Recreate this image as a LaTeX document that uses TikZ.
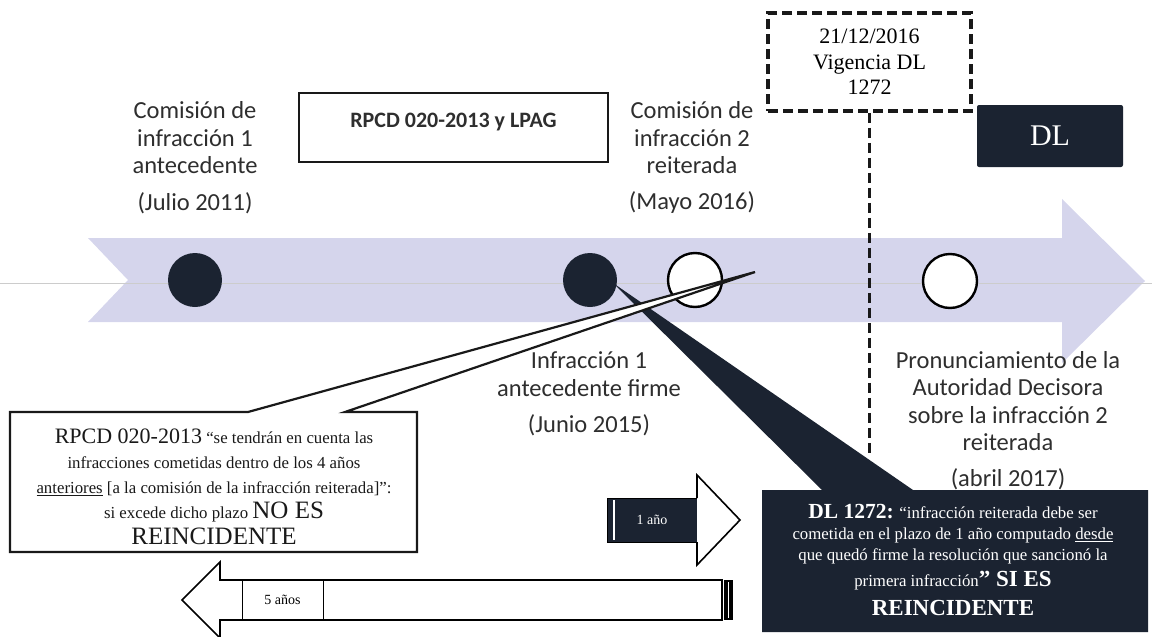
\documentclass[tikz,border=0pt]{standalone}
\usepackage{fontspec}
\setmainfont{Liberation Serif}
\newfontfamily\calfont{Carlito}
\usetikzlibrary{calc}
\definecolor{navy}{HTML}{1B2331}
\definecolor{bandcol}{HTML}{D5D5EC}
\definecolor{txtgray}{HTML}{2E2E2E}
\begin{document}
\begin{tikzpicture}[x=1pt,y=-1pt,
  lbl/.style={font=\calfont\fontsize{24.5}{27.5}\selectfont, align=center, text=txtgray, inner sep=0pt},
  darkdot/.style={circle, fill=navy, minimum size=54pt, inner sep=0pt},
  whitedot/.style={circle, fill=white, draw=black, line width=2.4pt, minimum size=54pt, inner sep=0pt},
  dashline/.style={line width=3.8pt, dash pattern=on 10pt off 5pt, draw=black!90},
]
\useasboundingbox (0,0) rectangle (1152,637);

% timeline band
\fill[bandcol] (88,238) -- (1062,238) -- (1062,199) -- (1145,281) -- (1062,363) -- (1062,322) -- (88,322) -- (128,280) -- cycle;
\draw[black!20, line width=0.6pt] (0,283) -- (1152,283);

% events on the timeline
\node[darkdot] (c1) at (195,280) {};
\node[darkdot] (c2) at (590,280) {};
\node[whitedot] (c3) at (695,280) {};
\node[whitedot] (c4) at (950,281) {};

% dashed date box and marker line
\node[dashline, draw, minimum width=203pt, minimum height=98pt, inner sep=0pt, align=center,
      font=\fontsize{22}{25.5}\selectfont] (vig) at (869.5,62) {21/12/2016\\Vigencia DL\\1272};
\coordinate (vigend) at (869.5,455);
\draw[dashline] (vig.south) -- (vigend);

% DL tag
\node[fill=navy, rounded corners=2pt, minimum width=146pt, minimum height=62pt, inner sep=0pt,
      text=white, font=\fontsize{30}{32}\selectfont] (dl) at (1050,136) {DL};

% RPCD y LPAG box
\node[draw=black!90, line width=2.6pt, minimum width=309pt, minimum height=69pt, inner sep=0pt] (rl) at (453.5,127.5) {};
\node[font=\calfont\bfseries\fontsize{22}{24}\selectfont, text=txtgray, inner sep=0pt] (rltxt) at (453.5,122) {RPCD 020-2013 y LPAG};

% dark callout (DL 1272)
\coordinate (dtip) at (613,283);
\fill[navy] (762,490) -- (822,490) -- (dtip) -- (913,490) -- (1148,490) -- (1148,632) -- (762,632) -- cycle;
\node[text=white, align=center, inner sep=0pt, font=\fontsize{16.8}{21}\selectfont] (dltxt) at (953,560)
 {{\bfseries\fontsize{21.5}{22}\selectfont DL 1272:} “infracción reiterada debe ser\\
  cometida en el plazo de 1 año computado \underline{desde}\\
  que quedó firme la resolución que sancionó la\\[5pt]
  primera infracción{\bfseries\fontsize{23}{24}\selectfont ” SI ES}\\[8pt]
  {\bfseries\fontsize{23}{24}\selectfont REINCIDENTE}};

% white callout (RPCD 020-2013)
\coordinate (wtip) at (755,272);
\filldraw[fill=white, draw=black!90, line width=2.2pt, line join=miter]
  (10,412) -- (248,412) -- (wtip) -- (345,412) -- (417,412) -- (417,552) -- (10,552) -- cycle;
\node[align=center, inner sep=0pt, font=\fontsize{16.8}{25}\selectfont, text=black!90] (rptxt) at (214,487)
 {{\fontsize{22}{24}\selectfont RPCD 020-2013} “se tendrán en cuenta las\\
  infracciones cometidas dentro de los 4 años\\
  \underline{anteriores} [a la comisión de la infracción reiterada]”:\\
  si excede dicho plazo {\fontsize{25}{27}\selectfont NO ES}\\[1pt]
  {\fontsize{25}{27}\selectfont REINCIDENTE}};

% text labels
\node[lbl] (t1) at (195,138) {Comisión de\\infracción 1\\antecedente};
\node[lbl] (d1) at (195,203) {(Julio 2011)};
\node[lbl] (t2) at (692,138) {Comisión de\\infracción 2\\reiterada};
\node[lbl] (d2) at (692,203) {(Mayo 2016)};
\node[lbl] (t3) at (589,374) {Infracción 1\\antecedente firme};
\node[lbl] (d3) at (589,425) {(Junio 2015)};
\node[lbl] (t4) at (1008,401) {Pronunciamiento de la\\Autoridad Decisora\\sobre la infracción 2\\reiterada};
\node[lbl] (d4) at (1008,479) {(abril 2017)};

% 1 año arrow
\filldraw[fill=navy, draw=black, line width=1pt] (607,498) rectangle (697,542);
\draw[white, line width=2.5pt] (614,500) -- (614,540);
\filldraw[fill=white, draw=black, line width=1.6pt, line join=miter] (697,498) -- (697,475) -- (740,520) -- (697,565) -- (697,542);
\node[text=white, font=\fontsize{14}{16}\selectfont, inner sep=0pt] (uno) at (652,520) {1 año};

% 5 años arrow
\filldraw[fill=white, draw=black, line width=1.6pt, line join=miter]
  (722,580) -- (220,580) -- (220,562) -- (182,600) -- (220,638) -- (220,620) -- (722,620) -- cycle;
\fill[black] (724,580) rectangle (733,620);
\draw[white, line width=1.5pt] (728.5,582) -- (728.5,618);
\node[draw=black, line width=1pt, minimum width=81pt, minimum height=40pt, inner sep=0pt,
      font=\fontsize{14}{16}\selectfont] (cinco) at (282.5,600) {5 años};
\end{tikzpicture}
\end{document}
